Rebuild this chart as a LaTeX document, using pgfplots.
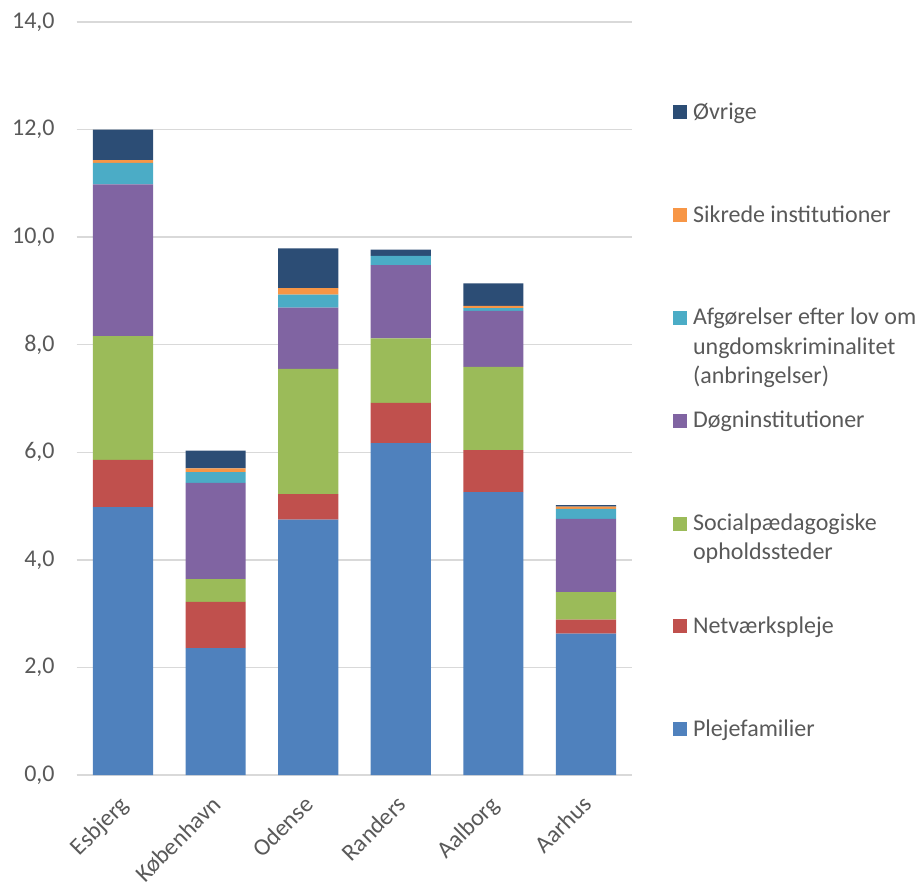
\documentclass[border=0pt]{standalone}
\usepackage{fontspec}
\setmainfont{Carlito}
\usepackage{pgfplots}
\pgfplotsset{compat=1.18}
\definecolor{cPleje}{HTML}{4F81BD}
\definecolor{cNetv}{HTML}{C0504D}
\definecolor{cSocial}{HTML}{9BBB59}
\definecolor{cDogn}{HTML}{8064A2}
\definecolor{cAfg}{HTML}{4BACC6}
\definecolor{cSik}{HTML}{F79646}
\definecolor{cOvr}{HTML}{2C4D75}
\definecolor{txt}{HTML}{595959}
\definecolor{grid}{HTML}{D9D9D9}
\newcommand{\mline}[1]{\begin{tabular}[t]{@{}l@{}}#1\end{tabular}}
\begin{document}
\begin{tikzpicture}
\useasboundingbox (-38.35pt,-55pt) rectangle (421.65pt,387.5pt);
\begin{axis}[
  scale only axis,
  width=277.8pt, height=376.5pt,
  ybar stacked,
  bar width=0.65,
  xmin=-0.5, xmax=5.5,
  ymin=0, ymax=14,
  ytick={0,2,...,14},
  xtick={0,1,2,3,4,5},
  xticklabels={Esbjerg,København,Odense,Randers,Aalborg,Aarhus},
  axis x line*=bottom,
  axis y line*=left,
  x axis line style={draw=grid, line width=0.7pt, -},
  y axis line style={draw=none},
  ymajorgrids,
  grid style={draw=grid, line width=0.7pt},
  major tick length=0pt,
  font=\fontsize{12}{14.6}\selectfont,
  tick label style={text=txt},
  /pgf/number format/.cd, fixed, fixed zerofill, precision=1, use comma, assume math mode=true,
  /pgfplots/.cd,
  yticklabel style={anchor=east, xshift=-7.5pt},
  xticklabel style={xshift=-2.5pt, yshift=-9.5pt, rotate=45, anchor=north east, inner sep=0pt},
  legend style={draw=none, fill=none, inner sep=0pt, at={(1.0727,0.8983)}, anchor=north west,
    nodes={inner sep=0pt, anchor=base west, text=txt, text height=10.2pt, text depth=41.2pt},
    column sep=3pt, row sep=0pt,
    font=\fontsize{12}{14.6}\selectfont},
  legend cell align=left,
  reverse legend,
  legend image code/.code={\fill[#1] (0pt,0pt) rectangle (7pt,7pt);},
]
\addplot[fill=cPleje, draw=none] coordinates {(0,4.98) (1,2.36) (2,4.75) (3,6.17) (4,5.26) (5,2.63)};
\addplot[fill=cNetv, draw=none] coordinates {(0,0.88) (1,0.86) (2,0.47) (3,0.75) (4,0.78) (5,0.26)};
\addplot[fill=cSocial, draw=none] coordinates {(0,2.30) (1,0.42) (2,2.33) (3,1.20) (4,1.55) (5,0.51)};
\addplot[fill=cDogn, draw=none] coordinates {(0,2.82) (1,1.79) (2,1.14) (3,1.36) (4,1.04) (5,1.36)};
\addplot[fill=cAfg, draw=none] coordinates {(0,0.40) (1,0.20) (2,0.24) (3,0.17) (4,0.05) (5,0.19)};
\addplot[fill=cSik, draw=none] coordinates {(0,0.05) (1,0.07) (2,0.12) (3,0.00) (4,0.04) (5,0.04)};
\addplot[fill=cOvr, draw=none] coordinates {(0,0.57) (1,0.33) (2,0.74) (3,0.12) (4,0.42) (5,0.03)};
\legend{Plejefamilier,Netværkspleje,{\mline{Socialpædagogiske\\opholdssteder}},Døgninstitutioner,{\mline{Afgørelser efter lov om\\ungdomskriminalitet\\(anbringelser)}},Sikrede institutioner,Øvrige}
\end{axis}
\end{tikzpicture}
\end{document}
